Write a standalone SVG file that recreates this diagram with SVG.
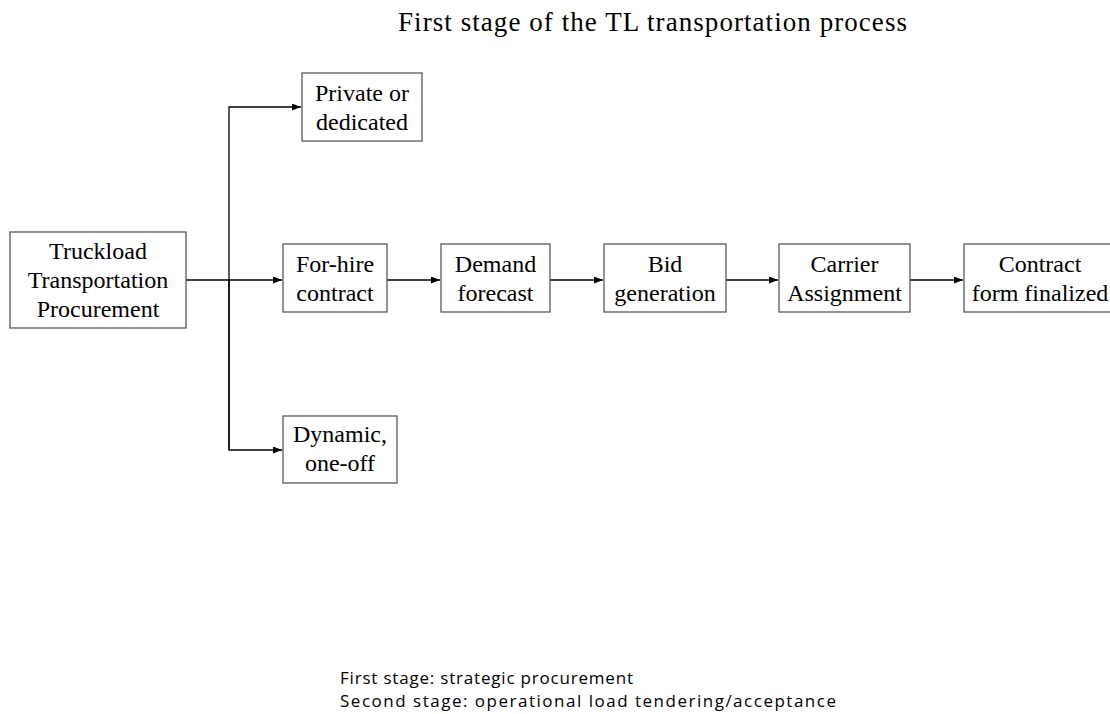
<svg xmlns="http://www.w3.org/2000/svg" width="1110" height="714" viewBox="0 0 1110 714">
<defs>
<marker id="arr" markerWidth="9" markerHeight="7" refX="9" refY="3.5" orient="auto" markerUnits="userSpaceOnUse">
<path d="M0,0 L9,3.5 L0,7 z" fill="#000"/>
</marker>
<style>
.box{fill:#fff;stroke:#595959;stroke-width:1.3}
.lbl{font-family:"Liberation Serif","DejaVu Serif",serif;font-size:24px;fill:#000;text-anchor:middle}
.con{fill:none;stroke:#000;stroke-width:1.3}
.title{font-family:"Liberation Serif","DejaVu Serif",serif;font-size:27px;fill:#000}
.note{font-family:"Open Sans","Liberation Sans",sans-serif;font-size:17px;fill:#000}
</style>
</defs>
<rect width="1110" height="714" fill="#fff"/>
<text class="title" x="398" y="31" textLength="509">First stage of the TL transportation process</text>

<g id="connectors">
<path class="con" d="M186,280 L282,280" marker-end="url(#arr)"/>
<path class="con" d="M229,450 L229,107 L301,107" marker-end="url(#arr)"/>
<path class="con" d="M229,280 L229,450 L282,450" marker-end="url(#arr)"/>
<path class="con" d="M387,280 L440,280" marker-end="url(#arr)"/>
<path class="con" d="M550,280 L603,280" marker-end="url(#arr)"/>
<path class="con" d="M726,280 L778,280" marker-end="url(#arr)"/>
<path class="con" d="M910,280 L963,280" marker-end="url(#arr)"/>
</g>

<g id="truckload">
<rect class="box" x="10" y="232" width="176" height="96"/>
<text class="lbl" x="98" y="259">Truckload</text>
<text class="lbl" x="98" y="288">Transportation</text>
<text class="lbl" x="98" y="317">Procurement</text>
</g>
<g id="private">
<rect class="box" x="302" y="73" width="120" height="68"/>
<text class="lbl" x="362" y="101">Private or</text>
<text class="lbl" x="362" y="130">dedicated</text>
</g>
<g id="forhire">
<rect class="box" x="283" y="244" width="104" height="68"/>
<text class="lbl" x="335" y="272">For-hire</text>
<text class="lbl" x="335" y="301">contract</text>
</g>
<g id="dynamic">
<rect class="box" x="283" y="416" width="114" height="67"/>
<text class="lbl" x="340" y="442">Dynamic,</text>
<text class="lbl" x="340" y="471">one-off</text>
</g>
<g id="demand">
<rect class="box" x="441" y="244" width="109" height="68"/>
<text class="lbl" x="495.5" y="272">Demand</text>
<text class="lbl" x="495.5" y="301">forecast</text>
</g>
<g id="bid">
<rect class="box" x="604" y="244" width="122" height="68"/>
<text class="lbl" x="665" y="272">Bid</text>
<text class="lbl" x="665" y="301">generation</text>
</g>
<g id="carrier">
<rect class="box" x="779" y="244" width="131" height="68"/>
<text class="lbl" x="844.5" y="272">Carrier</text>
<text class="lbl" x="844.5" y="301">Assignment</text>
</g>
<g id="contract">
<rect class="box" x="964" y="244" width="152" height="68"/>
<text class="lbl" x="1040" y="272">Contract</text>
<text class="lbl" x="1040" y="301">form finalized</text>
</g>

<text class="note" x="340" y="684" textLength="293">First stage: strategic procurement</text>
<text class="note" x="340" y="707" textLength="496">Second stage: operational load tendering/acceptance</text>
</svg>
